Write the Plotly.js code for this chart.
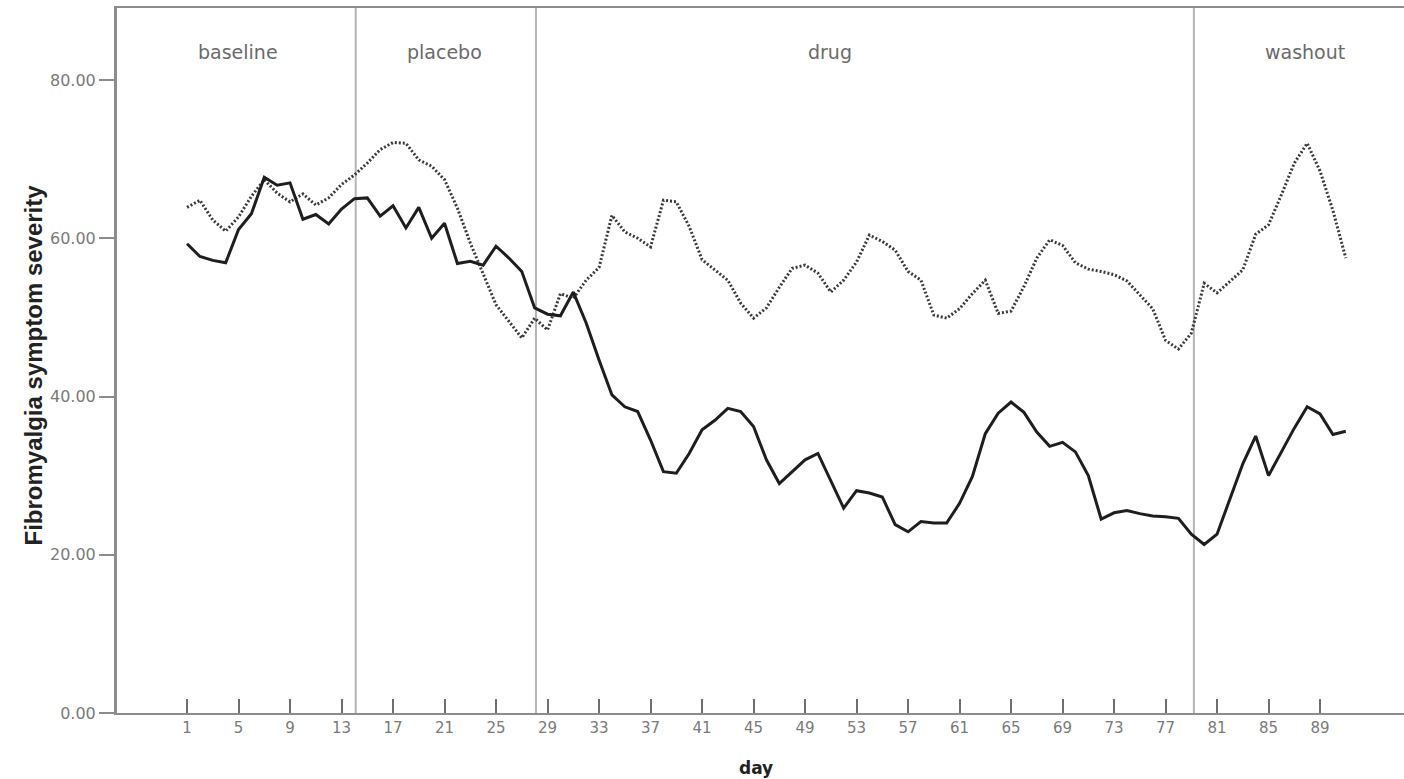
<!DOCTYPE html>
<html>
<head>
<meta charset="utf-8">
<script src="https://cdn.plot.ly/plotly-3.0.1.min.js"></script>
<style>html,body{margin:0;padding:0;background:#fff;overflow:hidden}#chart{width:1404px;height:779px}</style>
</head>
<body>
<div id="chart"></div>
<script>
// ---- data ----
const days = Array.from({length: 91}, (_, i) => i + 1);
const seriesSolid = [
  59.3, 57.7, 57.2, 56.9, 61.1, 63.1, 67.7, 66.7, 67.0, 62.4,
  63.0, 61.8, 63.7, 65.0, 65.1, 62.8, 64.1, 61.3, 63.9, 60.0,
  61.9, 56.8, 57.1, 56.6, 59.0, 57.5, 55.8, 51.2, 50.4, 50.2,
  53.2, 49.3, 44.6, 40.2, 38.7, 38.1, 34.5, 30.5, 30.3, 32.8,
  35.8, 37.0, 38.5, 38.1, 36.2, 32.0, 29.0, 30.5, 32.0, 32.8,
  29.4, 25.9, 28.1, 27.8, 27.3, 23.8, 22.9, 24.2, 24.0, 24.0,
  26.5, 29.9, 35.3, 37.9, 39.3, 38.0, 35.5, 33.7, 34.2, 33.0,
  30.0, 24.5, 25.3, 25.6, 25.2, 24.9, 24.8, 24.6, 22.6, 21.3,
  22.6, 27.0, 31.5, 35.0, 30.0, 33.0, 36.0, 38.7, 37.8, 35.2,
  35.6
];
const seriesDotted = [
  63.9, 64.8, 62.3, 60.9, 62.7, 65.3, 67.4, 65.7, 64.6, 65.6,
  64.2, 65.1, 66.8, 68.0, 69.5, 71.2, 72.1, 72.0, 69.9, 69.1,
  67.4, 63.8, 59.4, 55.6, 51.6, 49.5, 47.4, 49.9, 48.4, 53.0,
  52.4, 54.7, 56.3, 62.9, 60.8, 60.0, 58.9, 64.8, 64.6, 61.5,
  57.3, 56.0, 54.7, 51.8, 49.9, 51.2, 53.8, 56.2, 56.6, 55.6,
  53.2, 54.7, 57.0, 60.4, 59.6, 58.5, 55.8, 54.7, 50.3, 49.9,
  51.1, 53.0, 54.7, 50.5, 50.8, 53.9, 57.5, 59.8, 59.1, 56.9,
  56.1, 55.8, 55.4, 54.6, 52.8, 51.1, 47.1, 46.0, 48.0, 54.3,
  53.1, 54.5, 56.0, 60.5, 61.7, 65.5, 69.5, 72.0, 68.5, 63.5,
  57.5
];
const xTickVals = [1, 5, 9, 13, 17, 21, 25, 29, 33, 37, 41, 45, 49, 53, 57, 61, 65, 69, 73, 77, 81, 85, 89];
const yTickVals = [0, 20, 40, 60, 80];
const phaseNames = ["baseline", "placebo", "drug", "washout"];
const phaseBoundaries = [14.1, 28.1, 79.2];

// ---- layout config ----
const phaseLabelX = [4.96, 21.0, 50.9, 87.8];
const phaseLabelY = 83.6;
const tickGray = "#7a7a7a";

const traces = [
  {x: days, y: seriesDotted, type: "scatter", mode: "lines",
   line: {color: "#3a3a3a", width: 3, dash: "2px,2px"}, hoverinfo: "skip"},
  {x: days, y: seriesSolid, type: "scatter", mode: "lines",
   line: {color: "#1e1e1e", width: 3}, hoverinfo: "skip"}
];

const shapes = phaseBoundaries.map(b => ({
  type: "line", xref: "x", yref: "paper", x0: b, x1: b, y0: 0, y1: 1,
  line: {color: "#b4b4b4", width: 2}, layer: "below"
}));

const annotations = phaseNames.map((n, i) => ({
  text: n, x: phaseLabelX[i], y: phaseLabelY, xref: "x", yref: "y",
  showarrow: false, xanchor: "center", yanchor: "middle",
  font: {family: "DejaVu Sans", size: 19, color: "#6a6a6a"}
}));
annotations.push({
  text: "Fibromyalgia symptom severity", xref: "paper", yref: "paper",
  x: 0, y: 0.5, xshift: -84, yshift: -5, textangle: -90, showarrow: false,
  xanchor: "center", yanchor: "middle",
  font: {family: "Liberation Sans, Arial, sans-serif", size: 24, color: "#222", weight: "bold"}
});
annotations.push({
  text: "day", xref: "paper", yref: "paper", x: 0.5, y: 0, xshift: -5, yshift: -55,
  showarrow: false, xanchor: "center", yanchor: "middle",
  font: {family: "DejaVu Sans", size: 17, color: "#222", weight: "bold"}
});

const layout = {
  width: 1404, height: 779,
  margin: {l: 117, r: 0, t: 8, b: 66, pad: 0},
  paper_bgcolor: "#fff", plot_bgcolor: "#fff",
  showlegend: false,
  xaxis: {
    range: [-4.44, 95.52], tickmode: "array", tickvals: xTickVals,
    ticks: "inside", ticklen: 14, tickwidth: 2, tickcolor: "#6e6e6e",
    showgrid: false, zeroline: false,
    showline: true, linecolor: "#8c8c8c", linewidth: 2, mirror: true,
    tickfont: {family: "DejaVu Sans", size: 15, color: tickGray},
    fixedrange: true
  },
  yaxis: {
    range: [0, 89.1], tickmode: "array", tickvals: yTickVals, tickformat: ".2f",
    ticks: "outside", ticklen: 15, tickwidth: 2, tickcolor: "#8c8c8c",
    showgrid: false, zeroline: false,
    showline: true, linecolor: "#8c8c8c", linewidth: 3,
    tickfont: {family: "DejaVu Sans", size: 16, color: tickGray},
    fixedrange: true
  },
  shapes: shapes,
  annotations: annotations
};

Plotly.newPlot("chart", traces, layout, {displayModeBar: false, staticPlot: true});
</script>
</body>
</html>
